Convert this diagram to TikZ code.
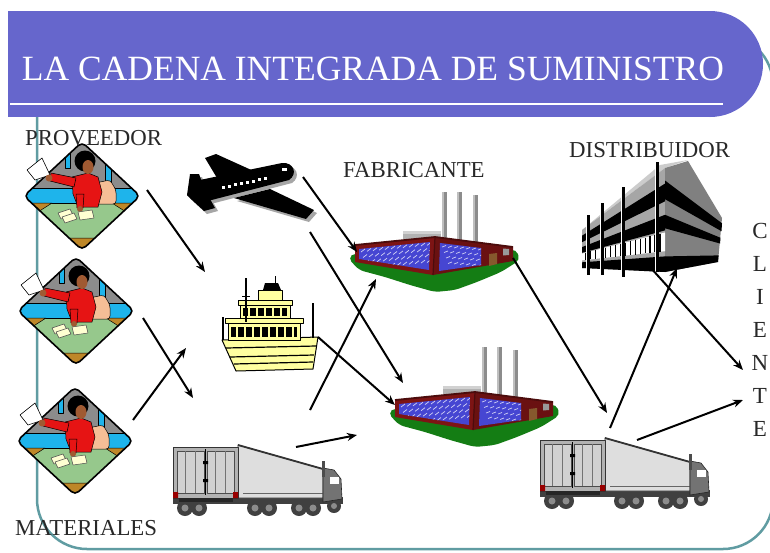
\documentclass[tikz,border=0pt]{standalone}
\usepackage{fontspec}
\setmainfont{Liberation Serif}
\usetikzlibrary{arrows.meta}

\definecolor{banner}{RGB}{102,102,204}
\definecolor{rim}{RGB}{96,156,162}
\definecolor{clkgray}{RGB}{140,140,140}
\definecolor{clkcyan}{RGB}{30,180,235}
\definecolor{clkgreen}{RGB}{150,200,140}
\definecolor{clkbrown}{RGB}{190,135,40}
\definecolor{clkpeach}{RGB}{245,190,150}
\definecolor{clkred}{RGB}{230,20,20}
\definecolor{skin}{RGB}{160,90,50}
\definecolor{paper}{RGB}{255,255,210}
\definecolor{brick}{RGB}{125,20,20}
\definecolor{glass}{RGB}{70,70,210}
\definecolor{lawn}{RGB}{20,125,20}
\definecolor{hull}{RGB}{255,255,160}
\definecolor{labelink}{RGB}{40,40,40}

\tikzset{
  lbl/.style={font=\fontsize{22.8}{26}\selectfont, text=labelink, inner sep=0pt, anchor=base west},
  letter/.style={font=\fontsize{23}{26}\selectfont, text=labelink, inner sep=0pt, anchor=base},
  headline/.style={font=\fontsize{35.5}{40}\selectfont, text=white, inner sep=0pt, anchor=base},
  flow/.style={-{Stealth[length=10pt,width=8pt]}, line width=2pt, black},
  thin/.style={draw=black, line width=0.5pt},
  % office clerk in a rounded diamond
  clerk/.pic={
    \begin{scope}
      \clip[rounded corners=5pt] (0,-54) -- (58,0) -- (0,54) -- (-58,0) -- cycle;
      \fill[clkgray] (-60,-56) rectangle (60,0);
      \fill[clkgreen] (-60,0) rectangle (60,56);
      \filldraw[fill=clkcyan, thin] (-17,-44) rectangle (-12,-28);
      \filldraw[fill=clkcyan, thin] (23,-32) rectangle (29,-14);
      \filldraw[fill=clkcyan, draw=black, line width=0.7pt] (-60,-8) rectangle (60,7);
      \filldraw[fill=clkbrown, thin] (-58,7) -- (-30,7) -- (-44,16) -- cycle;
      \filldraw[fill=clkbrown, thin] (30,7) -- (58,7) -- (44,16) -- cycle;
      \filldraw[fill=clkbrown, thin] (-14,42) -- (14,42) -- (0,56) -- cycle;
      \filldraw[fill=clkpeach, thin, rounded corners=3pt] (13,8) -- (13,-13) -- (28,-16) -- (34,-6) -- (34,8) -- cycle;
      \filldraw[fill=clkred, thin] (-10,-19) -- (6,-23) -- (16,-19) -- (20,-4) -- (16,11) -- (-4,11) -- (-9,-2) -- cycle;
      \filldraw[fill=clkred, thin] (-6,-18) -- (-31,-23) -- (-32,-15) -- (-8,-9) -- cycle;
      \filldraw[fill=clkred, thin] (-6,-2) -- (2,-2) -- (1,12) -- (-5,12) -- cycle;
      \fill[skin] (-2,13) circle[radius=3];
      \fill[black] (3,-35) circle[radius=10.5];
      \fill[skin] (6,-29) ellipse[x radius=5.5, y radius=7];
      \filldraw[fill=paper, draw=black!70, line width=0.5pt] (-24,17) -- (-12,13) -- (-9,19) -- (-21,23) -- cycle;
      \filldraw[fill=paper, draw=black!70, line width=0.5pt] (-20,21) -- (-8,17) -- (-5,23) -- (-17,27) -- cycle;
      \filldraw[fill=paper, draw=black!70, line width=0.5pt] (-4,16) -- (10,14) -- (12,22) -- (-2,24) -- cycle;
    \end{scope}
    \draw[line width=1.6pt, rounded corners=5pt] (0,-54) -- (58,0) -- (0,54) -- (-58,0) -- cycle;
    \filldraw[fill=white, draw=black, line width=0.6pt] (-55,-26) -- (-40,-38) -- (-32,-21) -- (-47,-16) -- cycle;
    \fill[skin] (-33,-18) circle[radius=3.5];
  },
  % articulated lorry seen from behind
  truck/.pic={
    \fill[black!75] (0,50) rectangle (170,57);
    \foreach \wx in {12,26,82,96,126,140}{
      \fill[black!75] (\wx,61) circle[radius=8];
      \fill[black!45] (\wx,61) circle[radius=3.5];
    }
    \fill[black!75] (161,59) circle[radius=7];
    \fill[black!45] (161,59) circle[radius=3];
    \filldraw[fill=black!13, draw=black!80, line width=0.8pt] (65,-2) -- (150,22) -- (150,51) -- (65,51) -- cycle;
    \draw[line width=1.8pt, black!80] (65,-2) -- (150,22);
    \draw[black!60, line width=0.6pt] (70,46) -- (150,46);
    \filldraw[fill=black!30, draw=black!80, line width=1pt] (0,0) rectangle (65,51);
    \filldraw[fill=black!18, draw=black!70, line width=0.6pt] (4,4) rectangle (31,46);
    \filldraw[fill=black!18, draw=black!70, line width=0.6pt] (34,4) rectangle (61,46);
    \draw[black!55, line width=0.8pt] (12,4) -- (12,46) (22,4) -- (22,46) (42,4) -- (42,46) (52,4) -- (52,46);
    \draw[black, line width=1.2pt] (32.5,2) -- (32.5,48);
    \fill[black] (30,14) rectangle (35,17) (30,32) rectangle (35,35);
    \fill[black!85] (6,51) rectangle (60,55);
    \fill[red!60!black] (0,45) rectangle (5,51) (60,45) rectangle (65,51);
    \filldraw[fill=black!55, draw=black!85, line width=0.6pt] (150,21) -- (161,23) -- (168,32) -- (169,52) -- (150,55) -- cycle;
    \fill[white] (157,30) rectangle (166,37);
    \fill[black!70] (149,14) rectangle (152,30);
  },
  % factory with three chimneys on a lawn
  factory/.pic={
    \fill[lawn, rounded corners=5pt] (-7,13) -- (4,25) -- (30,32) -- (55,40) -- (80,47) -- (100,45) -- (122,37) -- (146,27) -- (165,15) -- (161,4) -- (80,22) -- (0,8) -- cycle;
    \foreach \cx/\ct in {87/-53,102/-53,118/-50}{
      \fill[black!45] (\cx,\ct) rectangle ++(5,50);
      \fill[black!25] (\cx,\ct) rectangle ++(1.8,50);
    }
    \fill[black!30] (48,-14) rectangle (86,-6);
    \fill[black!18] (48,-14) rectangle (86,-11);
    \fill[brick] (0,0) -- (80,-8) -- (78,30) -- (0,17) -- cycle;
    \fill[glass] (4,4) -- (75,-3) -- (74,25) -- (4,14) -- cycle;
    \fill[brick!85!black] (80,-8) -- (158,2) -- (158,16) -- (78,30) -- cycle;
    \fill[glass] (85,-2) -- (126,3) -- (126,20) -- (84,26) -- cycle;
    \begin{scope}
      \clip (4,4) -- (75,-3) -- (74,25) -- (4,14) -- cycle;
      \foreach \i in {0,...,11}{\foreach \j in {0,1,2,3}{
        \draw[white!75!glass, line width=0.7pt] ({6+6*\i+2*\j},{7-0.6*\i+5.5*\j}) -- ++(4,-3);
      }}
    \end{scope}
    \begin{scope}
      \clip (85,-2) -- (126,3) -- (126,20) -- (84,26) -- cycle;
      \foreach \i in {0,...,6}{\foreach \j in {0,1,2,3}{
        \draw[white!75!glass, line width=0.7pt] ({87+6*\i+2*\j},{2+0.5*\i+5.5*\j}) -- ++(4,-1.5);
      }}
    \end{scope}
    \fill[brown!70!black] (134,9) -- (142,8) -- (142,19) -- (134,21) -- cycle;
    \fill[black!40] (148,3.5) -- (154,4) -- (154,10) -- (148,10.5) -- cycle;
    \draw[brick!60!black, line width=1.8pt] (0,0) -- (80,-8) -- (158,2);
    \draw[brick!60!black, line width=1.2pt] (80,-8) -- (78,30);
  }
}

\begin{document}
\begin{tikzpicture}[x=1pt, y=-1pt, line join=round]
\useasboundingbox (0,0) rectangle (770,552);
\fill[white] (0,0) rectangle (770,552);

% slide frame
\draw[rim, line width=2.5pt, rounded corners=50pt] (37,35) rectangle (773,549);

% title banner
\fill[banner] (8,11) rectangle (710,117);
\fill[banner] (710,64) circle[radius=53];
\draw[white, line width=2pt] (10,104) -- (723,104);
\node[headline] (title) at (373,80) {LA CADENA INTEGRADA DE SUMINISTRO};

% stage labels
\node[lbl] (proveedor) at (25,145) {PROVEEDOR};
\node[lbl] (materiales) at (15,535) {MATERIALES};
\node[lbl] (fabricante) at (343,177) {FABRICANTE};
\node[lbl] (distribuidor) at (569,157) {DISTRIBUIDOR};
\foreach \ch [count=\k] in {C,L,I,E,N,T,E}{
  \node[letter] (cliente\k) at (760,{238.5+33*(\k-1)}) {\ch};
}

% suppliers
\pic at (82,196) {clerk};
\pic at (76,311) {clerk};
\pic at (75,441) {clerk};

% aeroplane
\foreach \dx/\col in {3/black!35,0/black}{
  \begin{scope}[shift={(\dx,\dx)}]
    \fill[\col] (187,195) -- (195,181) -- (282,163) .. controls (294,162) and (298,174) .. (289,180) -- (200,203) -- cycle;
    \fill[\col] (220,183) -- (205,158) -- (216,154) -- (258,173) -- cycle;
    \fill[\col] (234,198) -- (270,189) -- (314,210) -- (306,219) -- cycle;
    \fill[\col] (187,195) -- (190,174) -- (199,174) -- (205,190) -- (215,208) -- (204,211) -- (192,200) -- cycle;
  \end{scope}
}
\foreach \k in {0,...,7}{
  \fill[white] ({222+6*\k},{189-1.26*\k}) rectangle ++(3,-3);
}
\fill[white] (282,171) rectangle ++(5,-3.5);

% ship
\filldraw[fill=hull, draw=black, line width=1pt] (222,340) -- (318,337) -- (313,369) -- (236,371) -- cycle;
\draw[line width=1.2pt] (226,348) -- (316,346) (230,357) -- (314,355) (234,364) -- (313,362);
\filldraw[fill=hull, draw=black, line width=0.8pt] (228,322) rectangle (300,340);
\fill[black] (231,327) rectangle (297,337);
\foreach \px in {236,244,...,292}{\fill[hull] (\px,327) rectangle ++(2,10);}
\filldraw[fill=hull, draw=black, line width=0.8pt] (225,318) rectangle (303,323);
\filldraw[fill=hull, draw=black, line width=0.8pt] (240,304) rectangle (290,318);
\fill[black] (243,308) rectangle (287,316);
\foreach \px in {248,256,...,284}{\fill[hull] (\px,308) rectangle ++(2,8);}
\filldraw[fill=hull, draw=black, line width=0.8pt] (238,300) rectangle (292,305);
\filldraw[fill=hull, draw=black, line width=0.8pt] (258,290) rectangle (282,300);
\fill[black] (263,290) -- (265,283) -- (278,283) -- (281,290) -- cycle;
\draw[line width=1pt] (275,276) -- (275,283);
\draw[line width=1.8pt] (246,278) -- (246,322);
\draw[line width=1pt] (242,296) -- (250,296);
\draw[line width=1.5pt] (313,303) -- (313,338);
\draw[line width=1.2pt] (223,317) -- (223,340);

% lorries
\pic at (173,447) {truck};
\pic at (540,440) {truck};

% factories
\pic at (355,245) {factory};
\pic at (395,400) {factory};

% distribution warehouse
\fill[black!20] (582,230) -- (660,165) -- (688,160) -- (665,168) -- cycle;
\fill[black!35] (582,230) -- (665,168) -- (665,272) -- (582,268) -- cycle;
\fill[black!50] (665,168) -- (688,161) -- (722,218) -- (718,262) -- (665,272) -- cycle;
\fill[black] (582,235.7) -- (665,183.6) -- (665,201.3) -- (582,242.2) -- cycle;
\fill[black] (582,247.1) -- (665,214.8) -- (665,230.4) -- (582,252.8) -- cycle;
\fill[white] (582,253.6) -- (665,232.5) -- (665,251.2) -- (582,260.4) -- cycle;
\foreach \u in {0.04,0.1,...,0.98}{
  \draw[black, line width=1.2pt] ({582+83*\u},{253.6-21.1*\u}) -- ({582+83*\u},{260.4-9.2*\u});
}
\fill[black] (582,262.3) -- (665,256.4) -- (665,272) -- (582,268) -- cycle;
\fill[black] (665,180.5) -- (722,223.3) -- (721.5,231.2) -- (665,199.2) -- cycle;
\fill[black] (665,214.8) -- (720.5,237.8) -- (720,243.5) -- (665,228.3) -- cycle;
\fill[black] (665,256.4) -- (718.6,255.4) -- (718,262) -- (665,272) -- cycle;
\foreach \cx/\ct/\cb in {588/215/275,602/203/275,623/187/277,657/162/272}{
  \fill[white] (\cx-2.5,\ct) rectangle (\cx-1.2,\cb);
  \fill[black] (\cx-1.2,\ct) rectangle (\cx+1.8,\cb);
}

% flow connection points
\coordinate (prov1) at (147,190);
\coordinate (prov2) at (143,318);
\coordinate (prov3) at (133,420);
\coordinate (airIn) at (205,272);
\coordinate (seaInA) at (193,398);
\coordinate (seaInB) at (186,348);
\coordinate (airOutA) at (303,177);
\coordinate (airOutB) at (310,232);
\coordinate (seaOut) at (318,337);
\coordinate (roadOutA) at (310,410);
\coordinate (roadOutB) at (296,447);
\coordinate (fab1In) at (357,252);
\coordinate (fab1InB) at (376,279);
\coordinate (fab2InA) at (403,383);
\coordinate (fab2InB) at (395,405);
\coordinate (fab2InC) at (357,435);
\coordinate (fab1Out) at (513,258);
\coordinate (lorryIn) at (607,413);
\coordinate (lorryOutA) at (610,428);
\coordinate (lorryOutB) at (637,440);
\coordinate (distIn) at (677,268);
\coordinate (distOut) at (650,267);
\coordinate (clientA) at (743,370);
\coordinate (clientB) at (743,400);

% material flows
\draw[flow] (prov1) -- (airIn);
\draw[flow] (prov2) -- (seaInA);
\draw[flow] (prov3) -- (seaInB);
\draw[flow] (airOutA) -- (fab1In);
\draw[flow] (airOutB) -- (fab2InA);
\draw[flow] (seaOut) -- (fab2InB);
\draw[flow] (roadOutA) -- (fab1InB);
\draw[flow] (roadOutB) -- (fab2InC);
\draw[flow] (fab1Out) -- (lorryIn);
\draw[flow] (lorryOutA) -- (distIn);
\draw[flow] (distOut) -- (clientA);
\draw[flow] (lorryOutB) -- (clientB);
\end{tikzpicture}
\end{document}
